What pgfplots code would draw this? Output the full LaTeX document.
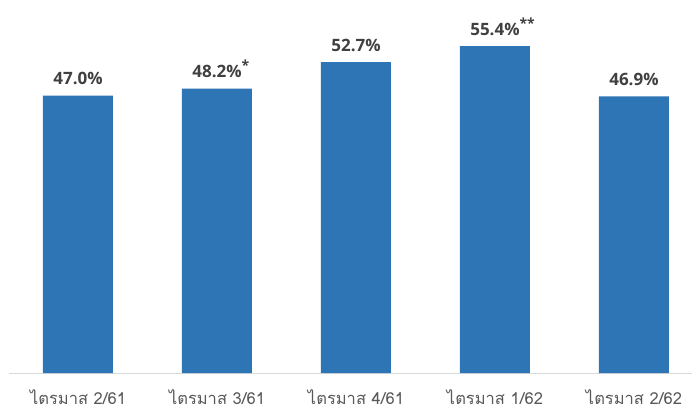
\documentclass[border=0pt]{standalone}
\usepackage{pgfplots}
\pgfplotsset{compat=1.18}
\usepackage{fontspec}
\setmainfont{Open Sans}
\newfontfamily\thaifont[Script=Thai]{Loma}
\definecolor{barblue}{HTML}{2E75B6}
\definecolor{txtgray}{HTML}{404040}
\definecolor{lblgray}{HTML}{595959}
\definecolor{basegray}{HTML}{D9D9D9}
\begin{document}
\begin{tikzpicture}
\path[use as bounding box] (0,0) rectangle (692bp,415bp);
\begin{axis}[
  at={(8.5bp,42bp)}, anchor=south west,
  scale only axis,
  width=688bp, height=354bp,
  xmin=-0.5, xmax=4.45,
  ymin=0, ymax=60,
  axis y line=none,
  axis x line*=bottom,
  x axis line style={draw=basegray, line width=1bp, -},
  xtick=data,
  xticklabels={ไตรมาส 2/61, ไตรมาส 3/61, ไตรมาส 4/61, ไตรมาส 1/62, ไตรมาส 2/62},
  x tick label style={font=\thaifont\fontsize{16.5bp}{19bp}\selectfont, text=lblgray, yshift=-13bp},
  major tick length=0pt,
  ytick=\empty,
  clip=false,
]
\addplot[ybar, bar width=70bp, fill=barblue, draw=none,
  nodes near coords,
  point meta=explicit symbolic,
  every node near coord/.append style={font=\bfseries\fontsize{17bp}{20bp}\selectfont, text=txtgray, yshift=7bp},
] coordinates {
  (0,47.0) [{47.0\%}]
  (1,48.2) [{48.2\%\rlap{\raisebox{7bp}{\fontsize{14bp}{14bp}\selectfont *}}}]
  (2,52.7) [{52.7\%}]
  (3,55.4) [{55.4\%\rlap{\raisebox{7bp}{\fontsize{14bp}{14bp}\selectfont **}}}]
  (4,46.9) [{46.9\%}]
};
\end{axis}
\end{tikzpicture}
\end{document}
